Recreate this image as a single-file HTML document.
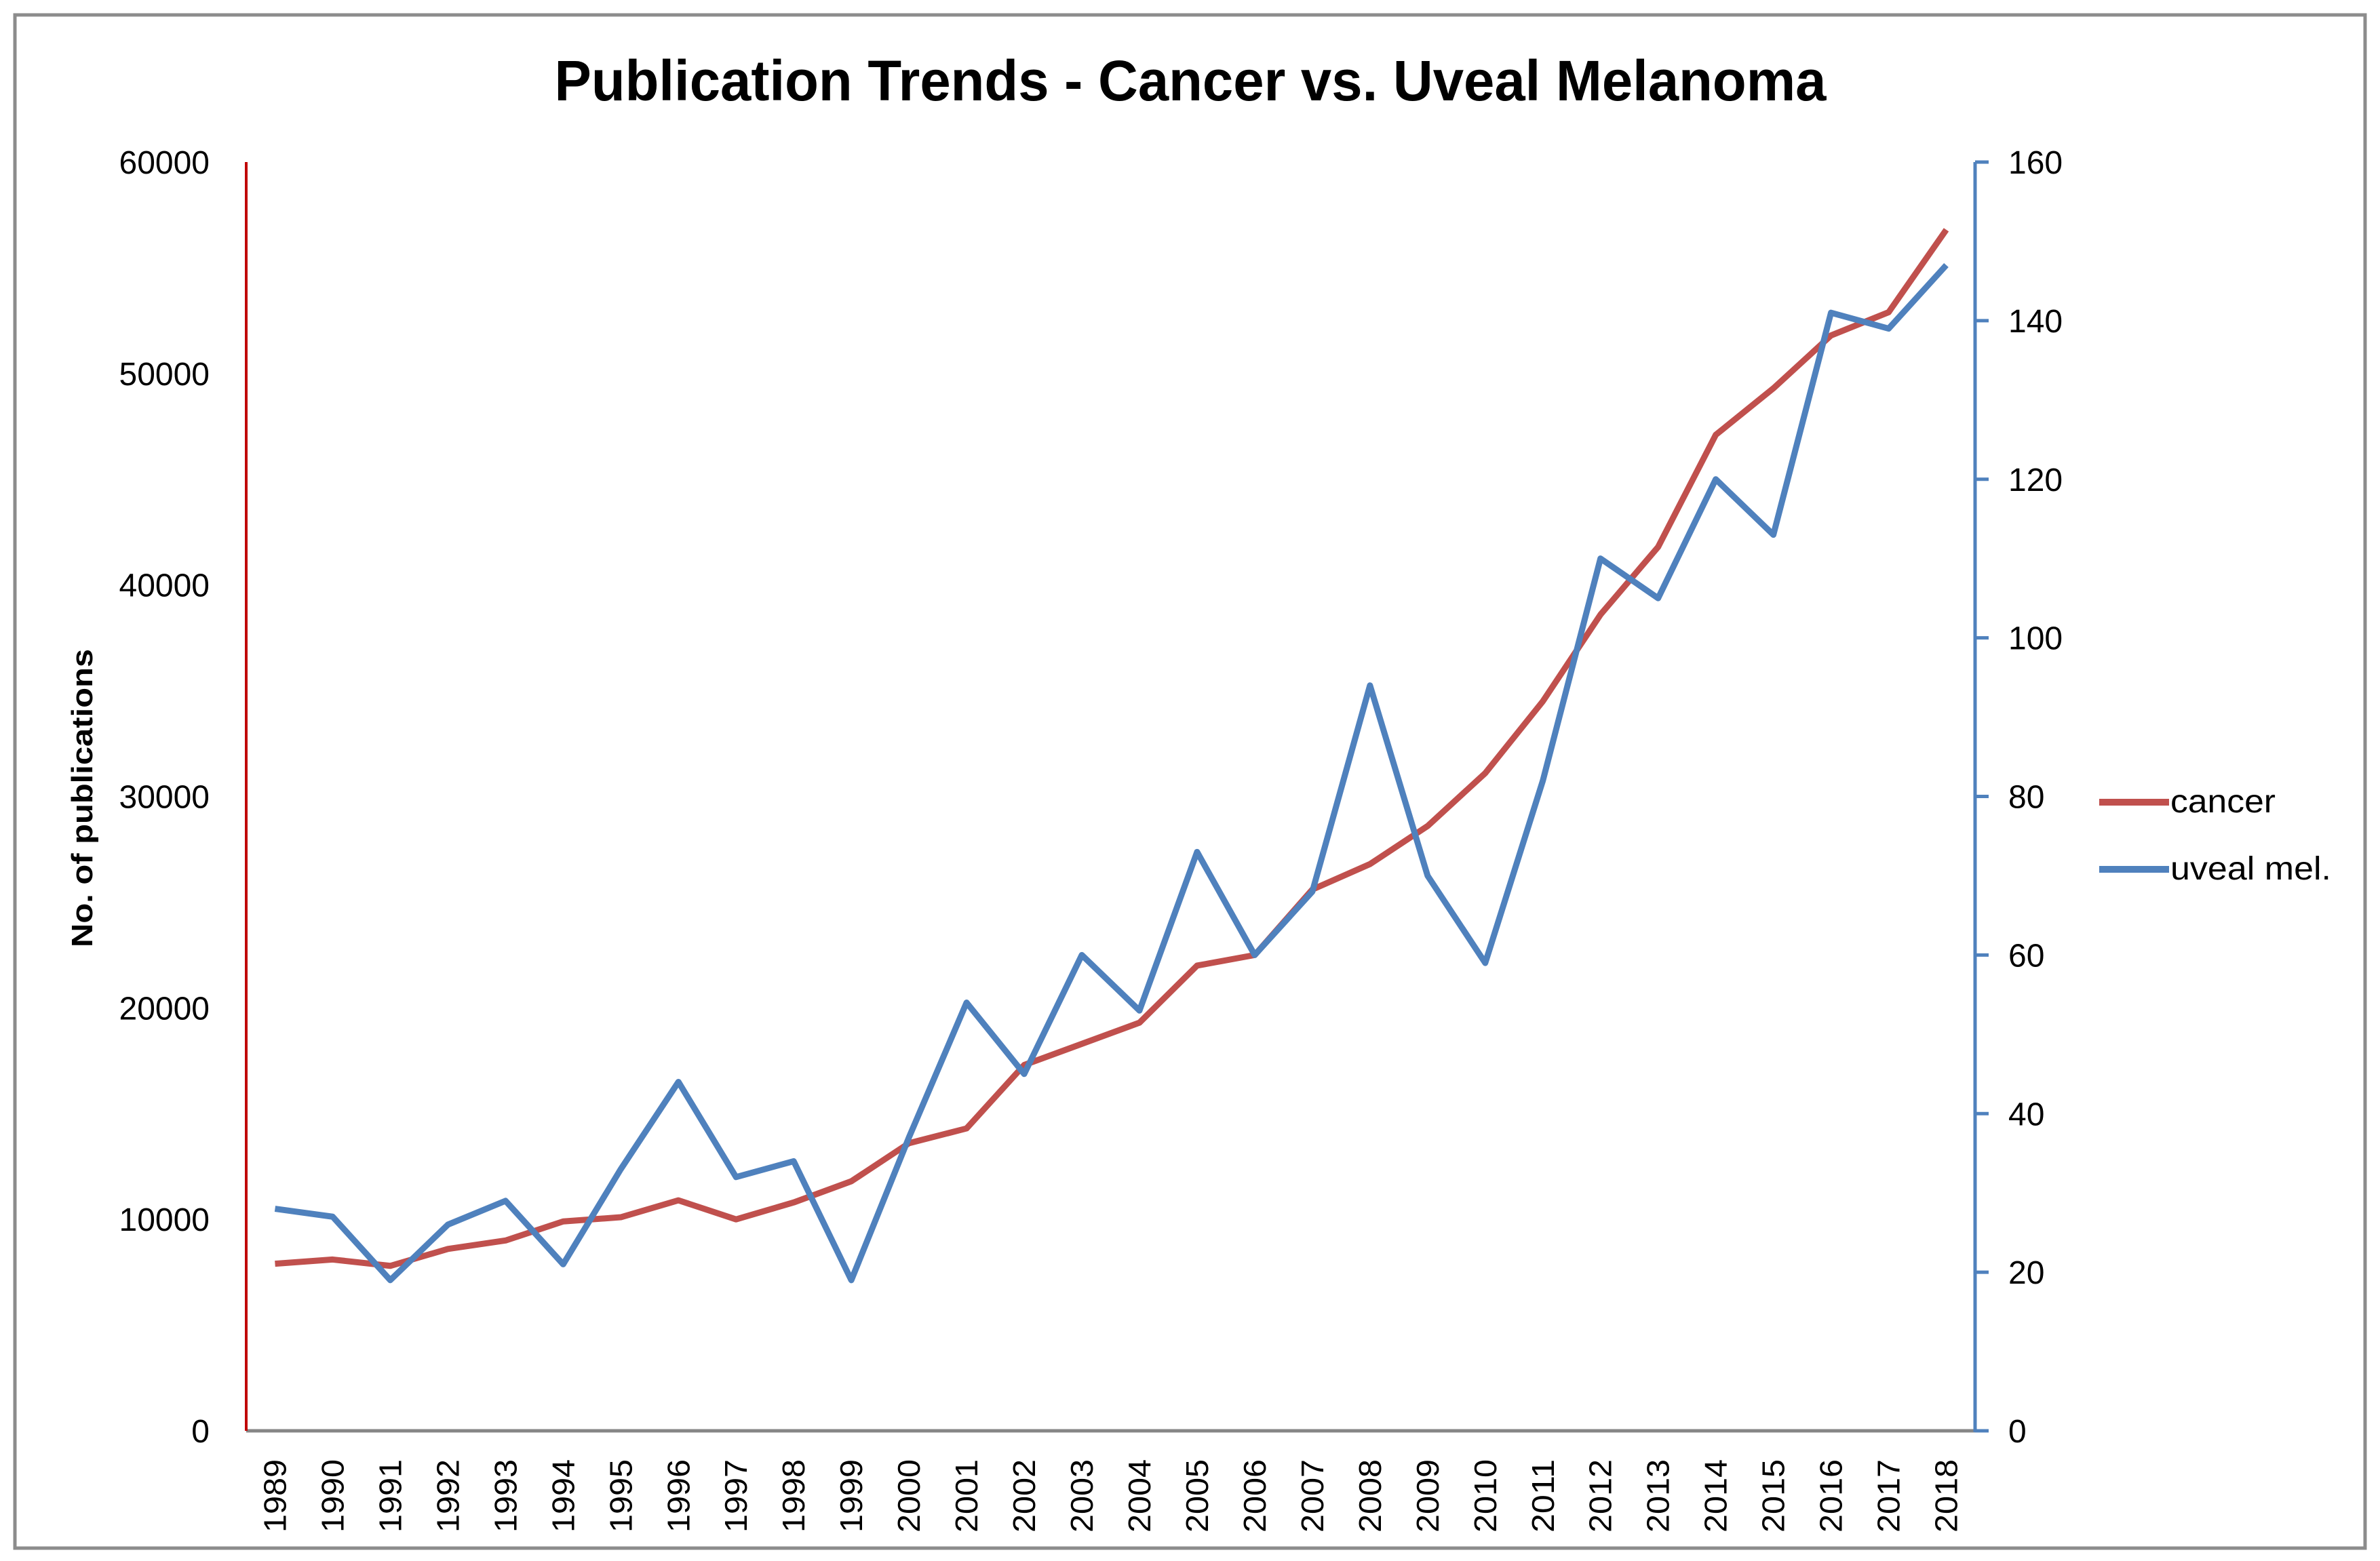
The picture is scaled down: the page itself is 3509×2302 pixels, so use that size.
<!DOCTYPE html>
<html><head><meta charset="utf-8"><style>html,body{margin:0;padding:0;background:#fff}svg{display:block}</style></head>
<body>
<svg id="chart" xmlns="http://www.w3.org/2000/svg" width="3509" height="2302" viewBox="0 0 3509 2302" font-family="'Liberation Sans', sans-serif">
<rect x="22" y="22" width="3465" height="2261" fill="#fff" stroke="#8c8c8c" stroke-width="5"/>
<text x="1755" y="148" text-anchor="middle" font-size="84" font-weight="bold" textLength="1875" lengthAdjust="spacingAndGlyphs">Publication Trends - Cancer vs. Uveal Melanoma</text>
<text transform="translate(136,1177) rotate(-90)" text-anchor="middle" font-size="44" font-weight="bold" textLength="440" lengthAdjust="spacingAndGlyphs">No. of publications</text>
<g id="axes"></g>
<g id="series"></g>
<g>
<line x1="3095" y1="1183" x2="3198" y2="1183" stroke="#C0504D" stroke-width="10"/>
<text x="3200" y="1198" font-size="48" textLength="155" lengthAdjust="spacingAndGlyphs">cancer</text>
<line x1="3095" y1="1282" x2="3198" y2="1282" stroke="#4F81BD" stroke-width="10"/>
<text x="3200" y="1297" font-size="48" textLength="237" lengthAdjust="spacingAndGlyphs">uveal mel.</text>
</g>
</svg>
<script>
const years = [1989,1990,1991,1992,1993,1994,1995,1996,1997,1998,1999,2000,2001,2002,2003,2004,2005,2006,2007,2008,2009,2010,2011,2012,2013,2014,2015,2016,2017,2018];
const cancerValues = [7900,8100,7800,8600,9000,9900,10100,10900,10000,10800,11800,13600,14300,17300,18300,19300,22000,22500,25600,26800,28600,31100,34500,38600,41800,47100,49300,51800,52900,56800];
const uvealValues = [28,27,19,26,29,21,33,44,32,34,19,37,54,45,60,53,73,60,68,94,70,59,82,110,105,120,113,141,139,147];
const leftTicks = [0,10000,20000,30000,40000,50000,60000];
const rightTicks = [0,20,40,60,80,100,120,140,160];
const NS = 'http://www.w3.org/2000/svg';
const L = 363, R = 2912, T = 239, B = 2110;
const leftMax = 60000, rightMax = 160;
const bw = (R - L) / years.length;
const xPos = i => L + (i + 0.5) * bw;
const yLeft = v => B - v / leftMax * (B - T);
const yRight = v => B - v / rightMax * (B - T);
function mk(tag, attrs, parent, txt) {
  const e = document.createElementNS(NS, tag);
  for (const k in attrs) e.setAttribute(k, attrs[k]);
  if (txt !== undefined) e.textContent = txt;
  parent.appendChild(e);
  return e;
}
const axes = document.getElementById('axes');
const series = document.getElementById('series');
let e;
e = mk('line', {x1: L, y1: B, x2: R, y2: B, stroke: '#868686', 'stroke-width': 5}, axes);


e = mk('line', {x1: L, y1: T, x2: L, y2: B, stroke: '#C00000', 'stroke-width': 4}, axes);


e = mk('line', {x1: R, y1: T, x2: R, y2: B + 2, stroke: '#4F81BD', 'stroke-width': 5}, axes);


leftTicks.forEach(v => {
  const t = mk('text', {x: 309, y: yLeft(v) + 17, 'text-anchor': 'end', 'font-size': 48}, axes, String(v));
  
  
});
rightTicks.forEach(v => {
  const tk = mk('line', {x1: R, y1: yRight(v), x2: R + 20, y2: yRight(v), stroke: '#4F81BD', 'stroke-width': 5}, axes);
  
  
  const t = mk('text', {x: 2961, y: yRight(v) + 17, 'font-size': 48}, axes, String(v));
  
  
});
years.forEach((yr, i) => {
  const t = mk('text', {transform: 'translate(' + (xPos(i) + 16) + ',2152) rotate(-90)', 'text-anchor': 'end', 'font-size': 46, textLength: 108, lengthAdjust: 'spacingAndGlyphs'}, axes, String(yr));
  
  
});
let p = mk('polyline', {points: cancerValues.map((v, i) => xPos(i) + ',' + yLeft(v)).join(' '), fill: 'none', stroke: '#C0504D', 'stroke-width': 9, 'stroke-linejoin': 'round'}, series);


p = mk('polyline', {points: uvealValues.map((v, i) => xPos(i) + ',' + yRight(v)).join(' '), fill: 'none', stroke: '#4F81BD', 'stroke-width': 9, 'stroke-linejoin': 'round'}, series);


</script>
</body></html>
